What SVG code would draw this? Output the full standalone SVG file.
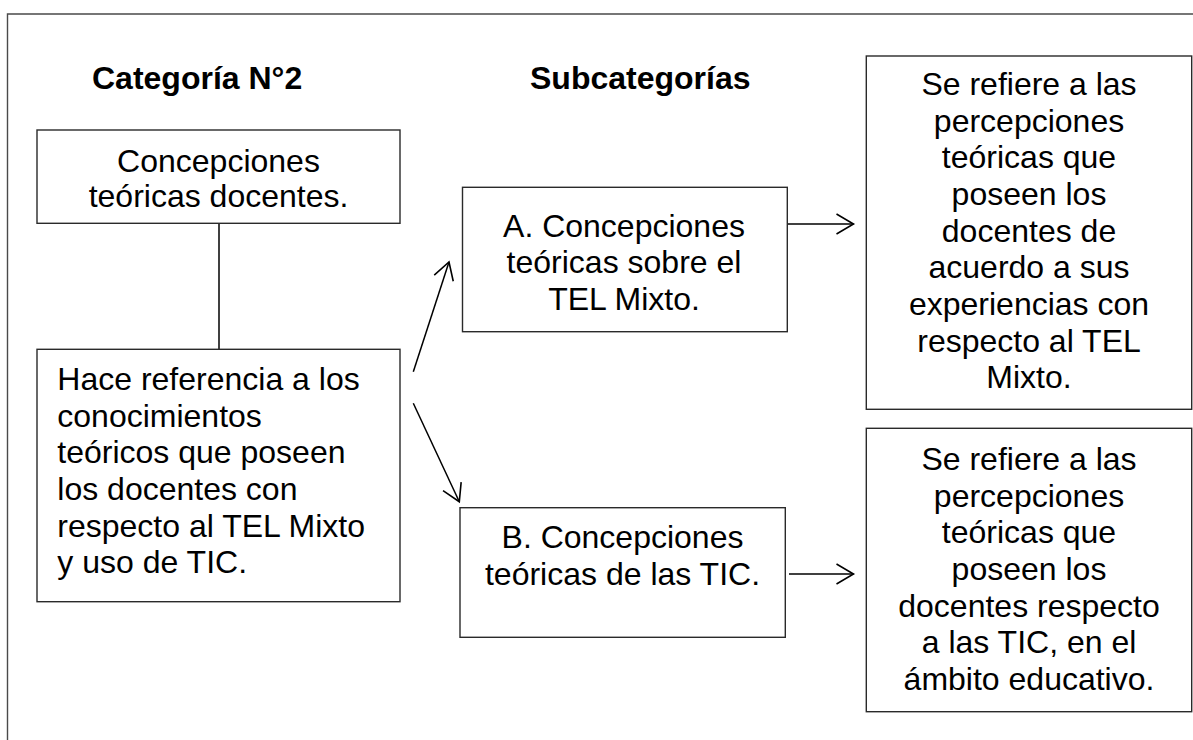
<svg xmlns="http://www.w3.org/2000/svg" width="1193" height="740" viewBox="0 0 1193 740">
<defs>
<style>
text{font-family:"Liberation Sans",Arial,sans-serif;font-size:32px;fill:#000}
.h{font-weight:bold}
.c{text-anchor:middle}
.box{fill:#fff;stroke:#2a2a2a;stroke-width:1.4}
.ln{fill:none;stroke:#000;stroke-width:1.5}
.frame{fill:none;stroke:#4a4a4a;stroke-width:1.4}
</style>
<marker id="ah" markerUnits="userSpaceOnUse" markerWidth="30" markerHeight="30" viewBox="-20 -15 25 30" refX="0" refY="0" orient="auto">
<path d="M-17,-10 L0,0 L-17,10" fill="none" stroke="#000" stroke-width="1.6"/>
</marker>
</defs>
<rect width="1193" height="740" fill="#fff"/>
<path class="frame" d="M7.5,740 V14 H1193"/>
<text class="h" x="92" y="89">Categoría N°2</text>
<text class="h" x="530" y="89">Subcategorías</text>
<g id="connectors">
<line class="ln" x1="219" y1="223" x2="219" y2="349"/>
<line class="ln" x1="413.3" y1="371.7" x2="449" y2="262" marker-end="url(#ah)"/>
<line class="ln" x1="413.3" y1="403.3" x2="459.3" y2="501.7" marker-end="url(#ah)"/>
<line class="ln" x1="787.5" y1="224" x2="853.5" y2="224" marker-end="url(#ah)"/>
<line class="ln" x1="789" y1="574" x2="853.5" y2="574" marker-end="url(#ah)"/>
</g>
<g id="cat">
<rect class="box" x="37" y="130" width="363" height="93.3"/>
<text class="c" x="218.5" y="171.5">Concepciones</text>
<text class="c" x="218.5" y="207">teóricas docentes.</text>
</g>
<g id="catdesc">
<rect class="box" x="37" y="349.3" width="363" height="252.4"/>
<text x="57.3" y="390">Hace referencia a los</text>
<text x="57.3" y="426.7">conocimientos</text>
<text x="57.3" y="463.3">teóricos que poseen</text>
<text x="57.3" y="500">los docentes con</text>
<text x="57.3" y="536.7">respecto al TEL Mixto</text>
<text x="57.3" y="573.3">y uso de TIC.</text>
</g>
<g id="subA">
<rect class="box" x="462.5" y="187.3" width="324.8" height="144.4"/>
<text class="c" x="624" y="236.7">A. Concepciones</text>
<text class="c" x="624" y="273.3">teóricas sobre el</text>
<text class="c" x="624" y="310">TEL Mixto.</text>
</g>
<g id="subB">
<rect class="box" x="460" y="507.7" width="325.3" height="129.6"/>
<text class="c" x="622.5" y="548.3">B. Concepciones</text>
<text class="c" x="622.5" y="585">teóricas de las TIC.</text>
</g>
<g id="descA">
<rect class="box" x="866.3" y="56" width="325.4" height="353.3"/>
<text class="c" x="1029" y="95">Se refiere a las</text>
<text class="c" x="1029" y="131.7">percepciones</text>
<text class="c" x="1029" y="168.3">teóricas que</text>
<text class="c" x="1029" y="205">poseen los</text>
<text class="c" x="1029" y="241.7">docentes de</text>
<text class="c" x="1029" y="278.3">acuerdo a sus</text>
<text class="c" x="1029" y="315">experiencias con</text>
<text class="c" x="1029" y="351.7">respecto al TEL</text>
<text class="c" x="1029" y="388.3">Mixto.</text>
</g>
<g id="descB">
<rect class="box" x="866.3" y="428.3" width="325.4" height="283.4"/>
<text class="c" x="1029" y="470">Se refiere a las</text>
<text class="c" x="1029" y="506.7">percepciones</text>
<text class="c" x="1029" y="543.3">teóricas que</text>
<text class="c" x="1029" y="580">poseen los</text>
<text class="c" x="1029" y="616.7">docentes respecto</text>
<text class="c" x="1029" y="653.3">a las TIC, en el</text>
<text class="c" x="1029" y="690">ámbito educativo.</text>
</g>
</svg>
